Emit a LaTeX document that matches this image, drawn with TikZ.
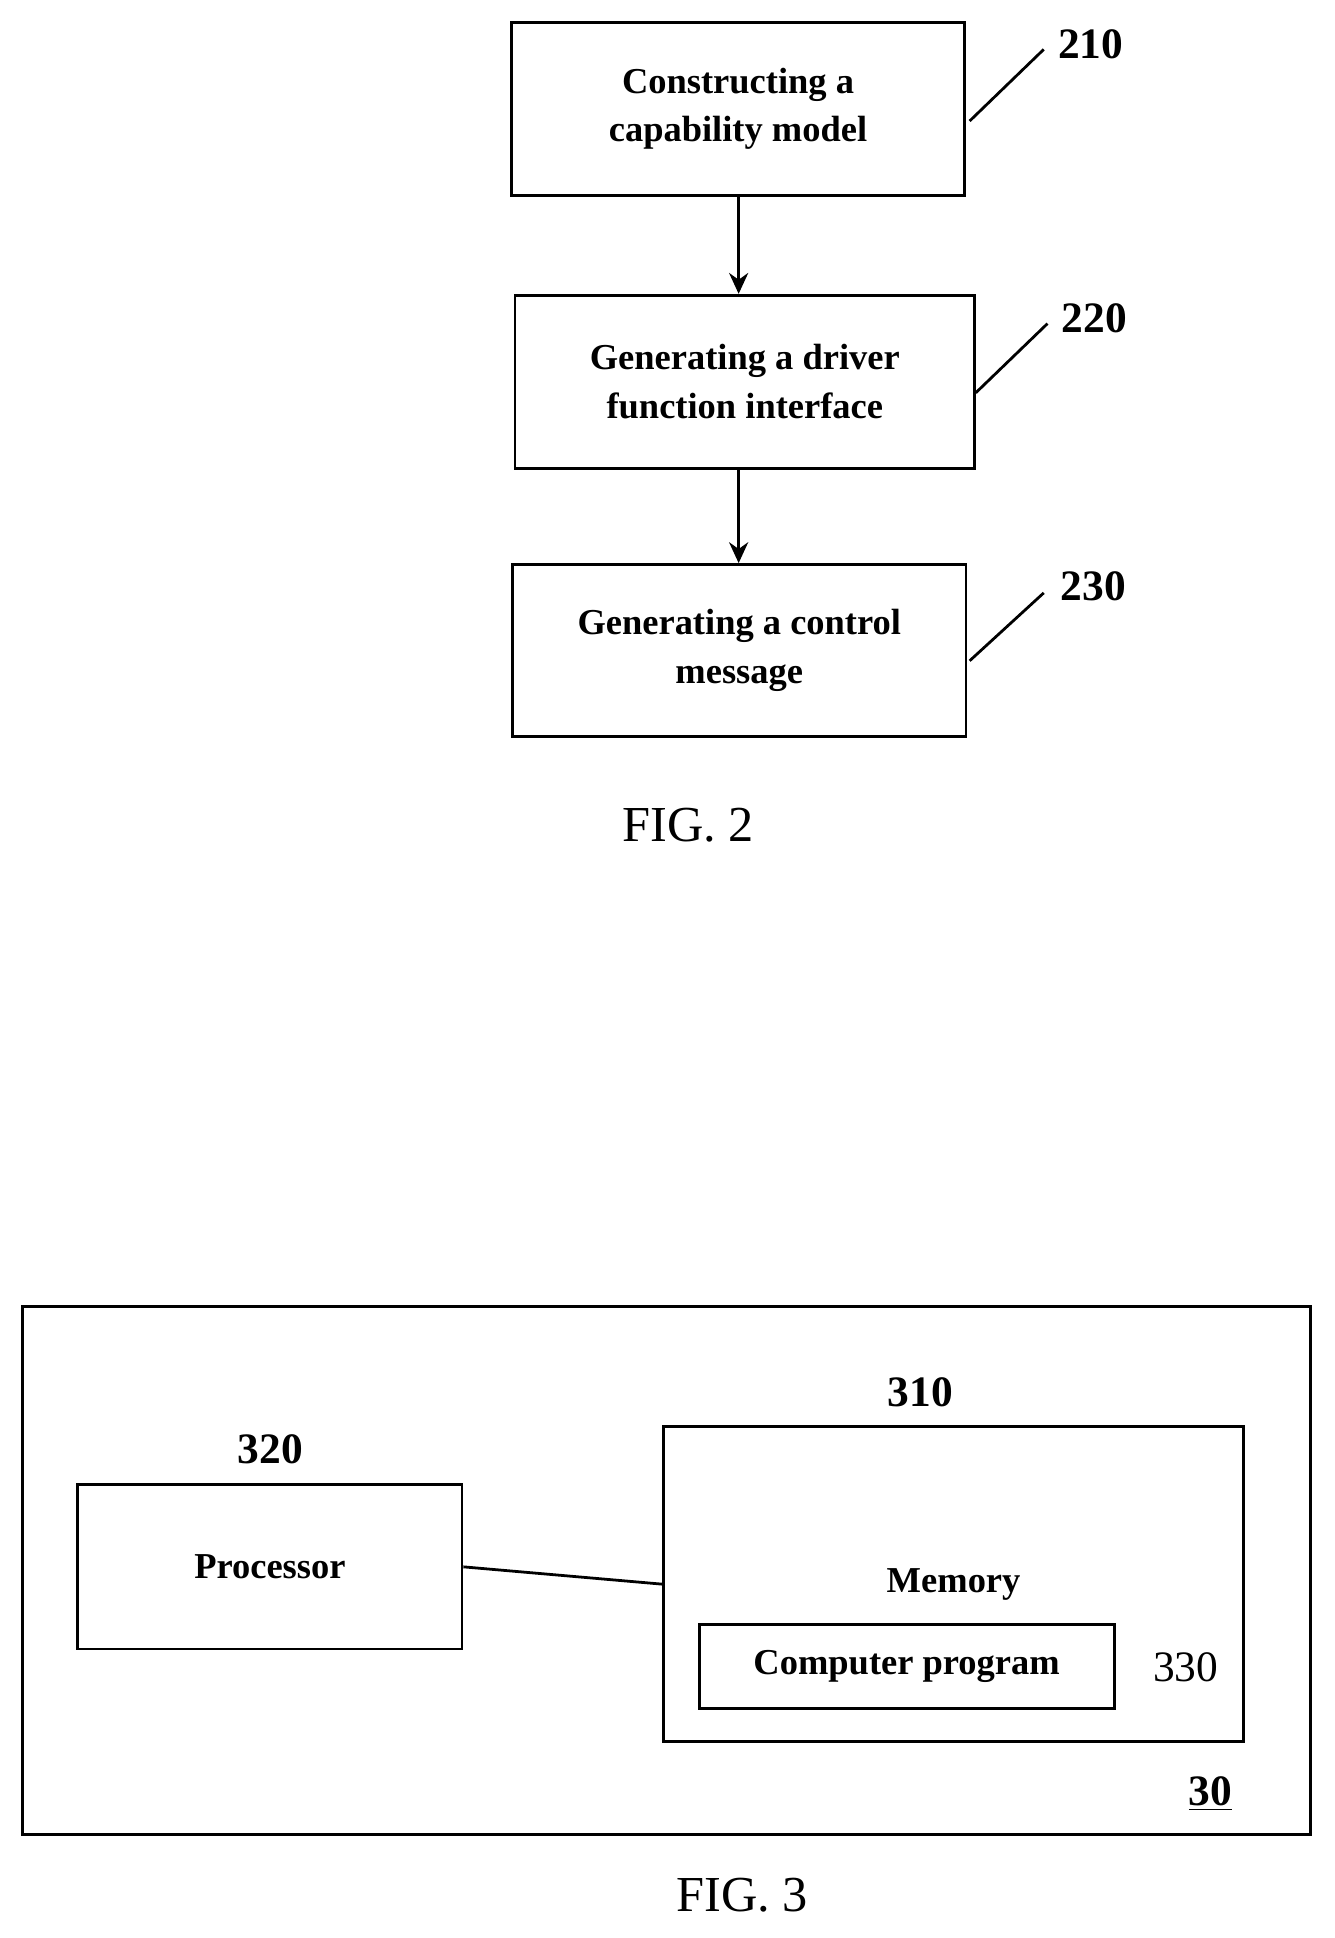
\documentclass[tikz,border=0pt]{standalone}
\usepackage{fontspec}
\setmainfont{Liberation Serif}
\usetikzlibrary{arrows.meta,positioning}
\begin{document}
\begin{tikzpicture}[x=0.025cm,y=-0.025cm,
  block/.style={draw, line width=1.6pt, align=center, inner sep=0pt,
                font=\fontsize{21}{28}\selectfont\bfseries},
  refnum/.style={font=\fontsize{25}{30}\selectfont\bfseries},
  caption/.style={font=\fontsize{29}{34}\selectfont},
  >={Stealth[length=12pt,width=11pt]},
]
  \useasboundingbox (0,0) rectangle (1080,1569);
  % FIG. 2
  \node[block, minimum width=367*0.025cm, minimum height=140*0.025cm] (s210) at (597.5,88)
    {Constructing a\\capability model};
  \node[block, minimum width=372*0.025cm, minimum height=140*0.025cm] (s220) at (603,309)
    {Generating a driver\\function interface};
  \node[block, minimum width=367*0.025cm, minimum height=139*0.025cm] (s230) at (598.5,526.5)
    {Generating a control\\message};
  \draw[->, line width=1.6pt] (s210.south -| 598,0) -- (s220.north -| 598,0);
  \draw[->, line width=1.6pt] (s220.south -| 598,0) -- (s230.north -| 598,0);
  \node[refnum] (n210) at (883,36) {210};
  \node[refnum] (n220) at (886,258) {220};
  \node[refnum] (n230) at (885,475) {230};
  \draw[line width=1.6pt] (785,98) -- (845,40);
  \draw[line width=1.6pt] (790,318) -- (848,262);
  \draw[line width=1.6pt] (785,535) -- (845,480);
  \node[caption] (fig2) at (557,668) {FIG. 2};
  % FIG. 3
  \draw[line width=1.6pt] (18,1058) rectangle (1061,1485);
  \node[block, minimum width=311*0.025cm, minimum height=133*0.025cm] (proc) at (218.5,1268.5)
    {Processor};
  \node[draw, line width=1.6pt, minimum width=470*0.025cm, minimum height=255*0.025cm] (mem) at (772,1282.5) {};
  \node[font=\fontsize{21}{28}\selectfont\bfseries] (memlbl) at (772,1283) {Memory};
  \node[block, minimum width=336*0.025cm, minimum height=68*0.025cm] (prog) at (734,1349)
    {Computer program};
  \draw[line width=1.6pt] (proc.east) -- (mem.west);
  \node[refnum] (n320) at (219,1173) {320};
  \node[refnum] (n310) at (745,1127) {310};
  \node[refnum, font=\fontsize{25}{30}\selectfont] (n330) at (960,1350) {330};
  \node[refnum] (n30) at (980,1452) {\underline{30}};
  \node[caption] (fig3) at (601,1534) {FIG. 3};
\end{tikzpicture}
\end{document}
